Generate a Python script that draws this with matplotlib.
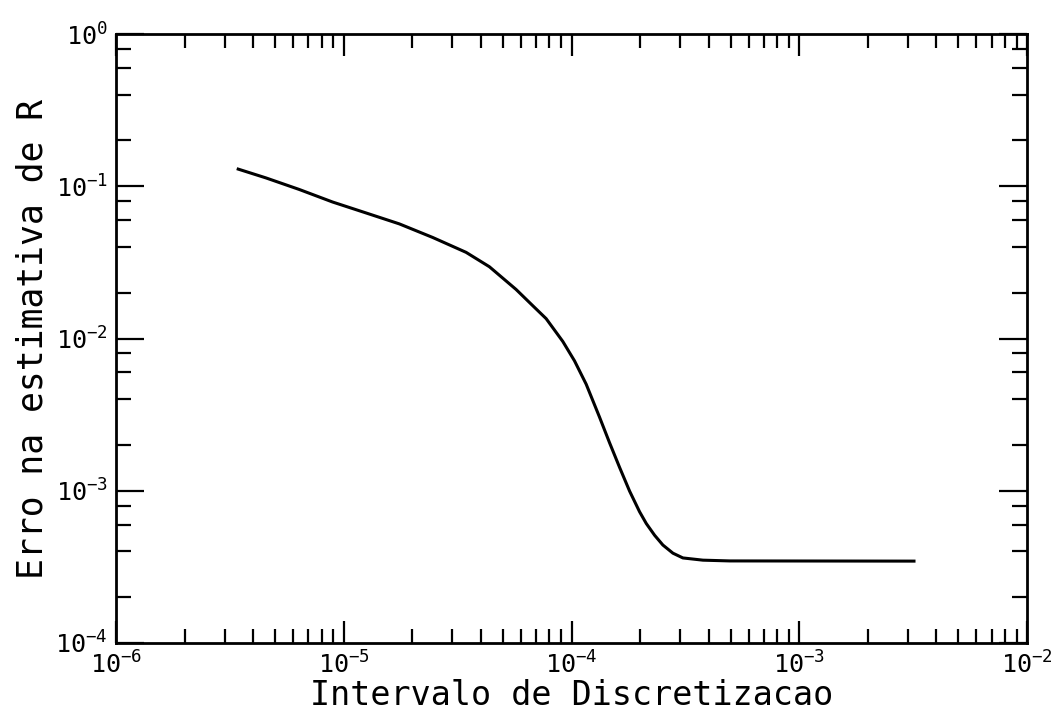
import matplotlib
matplotlib.use("Agg")
import matplotlib.pyplot as plt
from matplotlib.ticker import LogLocator, NullFormatter, LogFormatterMathtext

# Data (log-log curve)
interval = [3.44e-6, 4.55e-6, 6.37e-6, 8.93e-6, 1.252e-5, 1.754e-5, 2.457e-5, 3.445e-5,
            4.36e-5, 5.71e-5, 6.76e-5, 7.74e-5, 9.16e-5, 1.031e-4, 1.160e-4, 1.327e-4,
            1.469e-4, 1.626e-4, 1.799e-4, 1.990e-4, 2.130e-4, 2.317e-4, 2.519e-4,
            2.788e-4, 3.084e-4, 3.776e-4, 4.95e-4, 3.19e-3]
error = [0.1296, 0.1135, 0.0953, 0.0788, 0.0668, 0.0566, 0.0461, 0.0368,
         0.0296, 0.0210, 0.01642, 0.01350, 0.00956, 0.00713, 0.00501, 0.00305,
         0.002068, 0.001424, 9.95e-4, 7.28e-4, 6.09e-4, 5.10e-4, 4.40e-4,
         3.89e-4, 3.62e-4, 3.50e-4, 3.46e-4, 3.45e-4]

xlim = (1e-6, 1e-2)
ylim = (1e-4, 1e0)
xlabel = "Intervalo de Discretizacao"
ylabel = "Erro na estimativa de R"

plt.rcParams['font.family'] = ['DejaVu Sans Mono']
plt.rcParams['mathtext.fontset'] = 'custom'
plt.rcParams['mathtext.rm'] = 'DejaVu Sans Mono'

fig = plt.figure(figsize=(10.59, 7.27), dpi=100)
ax = fig.add_axes([116/1059, 1 - 643/727, (1027-116)/1059, (643-34)/727])

ax.plot(interval, error, color='black', lw=2.2, solid_joinstyle='round')
ax.set_xscale('log')
ax.set_yscale('log')
ax.set_xlim(*xlim)
ax.set_ylim(*ylim)

ax.xaxis.set_major_locator(LogLocator(base=10, numticks=10))
ax.xaxis.set_minor_locator(LogLocator(base=10, subs=[2, 3, 4, 5, 6, 7, 8, 9], numticks=20))
ax.yaxis.set_major_locator(LogLocator(base=10, numticks=10))
ax.yaxis.set_minor_locator(LogLocator(base=10, subs=[2, 4, 6, 8], numticks=20))
ax.xaxis.set_major_formatter(LogFormatterMathtext())
ax.yaxis.set_major_formatter(LogFormatterMathtext())
ax.xaxis.set_minor_formatter(NullFormatter())
ax.yaxis.set_minor_formatter(NullFormatter())

ax.tick_params(axis='both', which='both', direction='in', top=True, right=True,
               color='black', width=1.6)
ax.tick_params(axis='x', which='major', length=16, pad=6, labelsize=18)
ax.tick_params(axis='x', which='minor', length=10)
ax.tick_params(axis='y', which='major', length=20, pad=6, labelsize=18)
ax.tick_params(axis='y', which='minor', length=11)

for s in ax.spines.values():
    s.set_linewidth(2)
    s.set_color('black')

ax.set_xlabel(xlabel, fontsize=24, labelpad=0)
ax.set_ylabel(ylabel, fontsize=25, labelpad=4)

fig.savefig("out.png", dpi=100)
